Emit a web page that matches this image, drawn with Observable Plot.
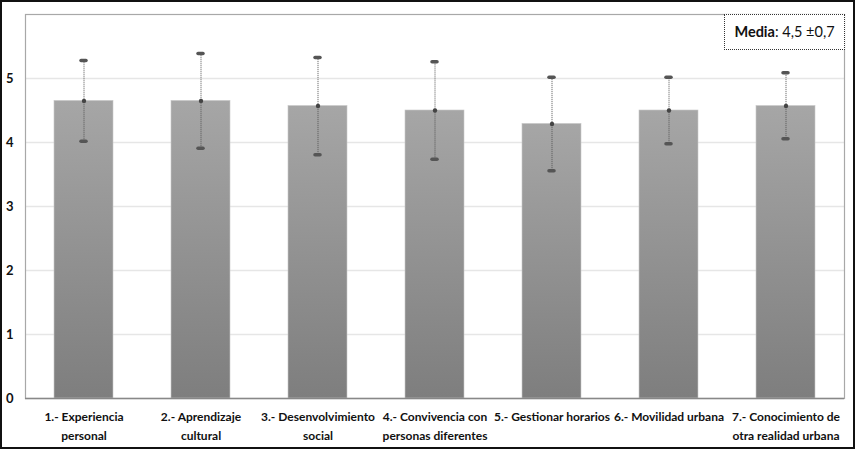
<!DOCTYPE html>
<html>
<head>
<meta charset="utf-8">
<script src="https://cdn.jsdelivr.net/npm/d3@7"></script>
<script src="https://cdn.jsdelivr.net/npm/@observablehq/plot@0.6"></script>
<style>
  html, body { margin: 0; padding: 0; background: #fff; }
  #wrap { position: relative; width: 855px; height: 449px; overflow: hidden; }
  #border { position: absolute; left: 0; top: 0; width: 851px; height: 445px; border: 2px solid #111; pointer-events: none; }
  #media { position: absolute; left: 724px; top: 14px; width: 119px; height: 34px; border: 1px dotted #333;
           font-family: Lato, "Open Sans", sans-serif; font-size: 14.5px; line-height: 34px; text-align: center; color: #111; background: #fff; }
  svg { display: block; }
</style>
</head>
<body>
<div id="wrap">
  <div id="chart"></div>
  <div id="media"><b>Media</b>: 4,5 ±0,7</div>
  <div id="border"></div>
</div>
<script>
const categories = [
  "1.- Experiencia personal",
  "2.- Aprendizaje cultural",
  "3.- Desenvolvimiento social",
  "4.- Convivencia con personas diferentes",
  "5.- Gestionar horarios",
  "6.- Movilidad urbana",
  "7.- Conocimiento de otra realidad urbana"
];
const tickLabels = [
  "1.- Experiencia\npersonal",
  "2.- Aprendizaje\ncultural",
  "3.- Desenvolvimiento\nsocial",
  "4.- Convivencia con\npersonas diferentes",
  "5.- Gestionar horarios",
  "6.- Movilidad urbana",
  "7.- Conocimiento de\notra realidad urbana"
];
const means = [4.65, 4.65, 4.57, 4.50, 4.29, 4.50, 4.57];
const upper = [5.28, 5.39, 5.33, 5.26, 5.02, 5.02, 5.09];
const lower = [4.02, 3.91, 3.81, 3.74, 3.56, 3.98, 4.06];
const yTicks = [0, 1, 2, 3, 4, 5];

const data = categories.map((c, i) => ({cat: c, mean: means[i], hi: upper[i], lo: lower[i]}));
const labelOf = new Map(categories.map((c, i) => [c, tickLabels[i]]));

const chart = Plot.plot({
  width: 855,
  height: 449,
  marginTop: 14,
  marginLeft: 25,
  marginRight: 11,
  marginBottom: 51,
  style: {fontFamily: "Lato, 'Open Sans', sans-serif", color: "#111", background: "transparent"},
  x: {domain: categories, paddingInner: 0.5, paddingOuter: 0.24, label: null},
  y: {domain: [0, 6], label: null},
  marks: [
    Plot.gridY(yTicks.filter(d => d > 0), {stroke: "#e6e6e6", strokeOpacity: 1, strokeWidth: 1.5}),
    Plot.frame({stroke: "#a8a8a8", strokeWidth: 1.2}),
    Plot.barY(data, {x: "cat", y: "mean", fill: "url(#barGrad)", stroke: "#c8c8c8", strokeWidth: 0.6}),
    Plot.ruleY([0], {stroke: "#888", strokeWidth: 1.6}),
    Plot.ruleX(data, {x: "cat", y1: "lo", y2: "hi", stroke: "#555", strokeWidth: 1, strokeDasharray: "1,1"}),
    Plot.tickY(data, {x: "cat", y: "hi", stroke: "#555", strokeWidth: 3.5, strokeLinecap: "round", insetLeft: 27, insetRight: 27}),
    Plot.tickY(data, {x: "cat", y: "lo", stroke: "#555", strokeWidth: 3.5, strokeLinecap: "round", insetLeft: 27, insetRight: 27}),
    Plot.dot(data, {x: "cat", y: "mean", r: 2.2, fill: "#444", stroke: null}),
    Plot.axisY(yTicks, {tickSize: 0, tickPadding: 12, fontSize: 13, fontWeight: "bold", fill: "#111", tickFormat: d3.format("d")}),
    Plot.axisX({tickSize: 0, tickPadding: 8, fontSize: 12, fontWeight: "bold", lineHeight: 1.65, fill: "#111",
                tickFormat: d => labelOf.get(d)})
  ]
});

const defs = d3.create("svg:defs");
const grad = defs.append("linearGradient").attr("id", "barGrad").attr("x1", 0).attr("y1", 0).attr("x2", 0).attr("y2", 1);
grad.append("stop").attr("offset", "0%").attr("stop-color", "#a6a6a6");
grad.append("stop").attr("offset", "100%").attr("stop-color", "#7e7e7e");
chart.insertBefore(defs.node(), chart.firstChild);

document.getElementById("chart").appendChild(chart);
</script>
</body>
</html>
